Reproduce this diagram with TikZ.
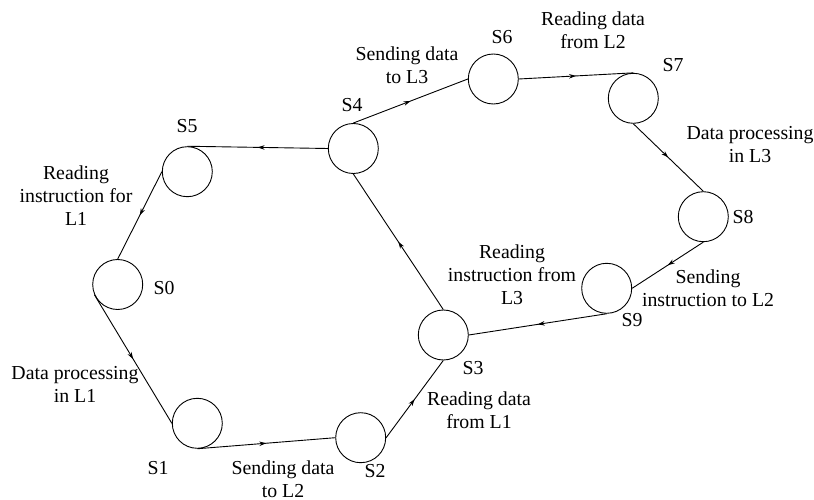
\documentclass[tikz,border=0pt]{standalone}
\usepackage{fontspec}
\setmainfont{Liberation Serif}
\usetikzlibrary{arrows.meta,decorations.markings}
\tikzset{
  st/.style={circle,draw,line width=0.9bp,minimum size=50bp,inner sep=0pt},
  slbl/.style={inner sep=0pt,font=\fontsize{19.8bp}{23bp}\selectfont},
  elbl/.style={inner sep=0pt,align=center,font=\fontsize{19.8bp}{23bp}\selectfont},
  conn/.style={line width=0.9bp,postaction={decorate},
    decoration={markings,mark=at position 0.5 with {\arrow{Stealth[length=7bp,width=4.5bp]}}}}
}
\begin{document}
\begin{tikzpicture}[x=1bp,y=-1bp]
\useasboundingbox (0,0) rectangle (814,500);
% states
\node[st] (s0) at (117.7,284.5) {};
\node[st] (s1) at (197.3,423.3) {};
\node[st] (s2) at (360.7,437.7) {};
\node[st] (s3) at (443.3,335) {};
\node[st] (s4) at (353.3,148.5) {};
\node[st] (s5) at (187.3,171.7) {};
\node[st] (s6) at (493.3,79) {};
\node[st] (s7) at (633.3,98.3) {};
\node[st] (s8) at (703.3,216.7) {};
\node[st] (s9) at (606.7,288.3) {};
% state labels
\node[slbl] (l0) at (164,288) {S0};
\node[slbl] (l1) at (158,468) {S1};
\node[slbl] (l2) at (375,471) {S2};
\node[slbl] (l3) at (473,368) {S3};
\node[slbl] (l4) at (352,105) {S4};
\node[slbl] (l5) at (187,126) {S5};
\node[slbl] (l6) at (502,37) {S6};
\node[slbl] (l7) at (673,65) {S7};
\node[slbl] (l8) at (743,217) {S8};
\node[slbl] (l9) at (632,320) {S9};
% transitions
\draw[conn] (s0.204) -- (s1.west);
\draw[conn] (s1.south) -- (s2.west);
\draw[conn] (s2.east) -- (s3.south);
\draw[conn] (s3.north) -- (s4.south);
\draw[conn] (s4.west) -- (s5.north);
\draw[conn] (s5.west) -- (s0.north);
\draw[conn] (s4.north) -- (s6.west);
\draw[conn] (s6.east) -- (s7.north);
\draw[conn] (s7.south) -- (s8.north);
\draw[conn] (s8.south) -- (s9.east);
\draw[conn] (s9.south) -- (s3.east);
% transition labels
\node[elbl] (t50) at (76,196) {Reading\\instruction for\\L1};
\node[elbl] (t01) at (75,384) {Data processing\\in L1};
\node[elbl] (t12) at (283,479) {Sending data\\to L2};
\node[elbl] (t23) at (479,410) {Reading data\\from L1};
\node[elbl] (t93) at (512,275) {Reading\\instruction from\\L3};
\node[elbl] (t89) at (708,288) {Sending\\instruction to L2};
\node[elbl] (t78) at (750,145) {Data processing\\in L3};
\node[elbl] (t67) at (593,30) {Reading data\\from L2};
\node[elbl] (t46) at (407,65) {Sending data\\to L3};
\end{tikzpicture}
\end{document}
